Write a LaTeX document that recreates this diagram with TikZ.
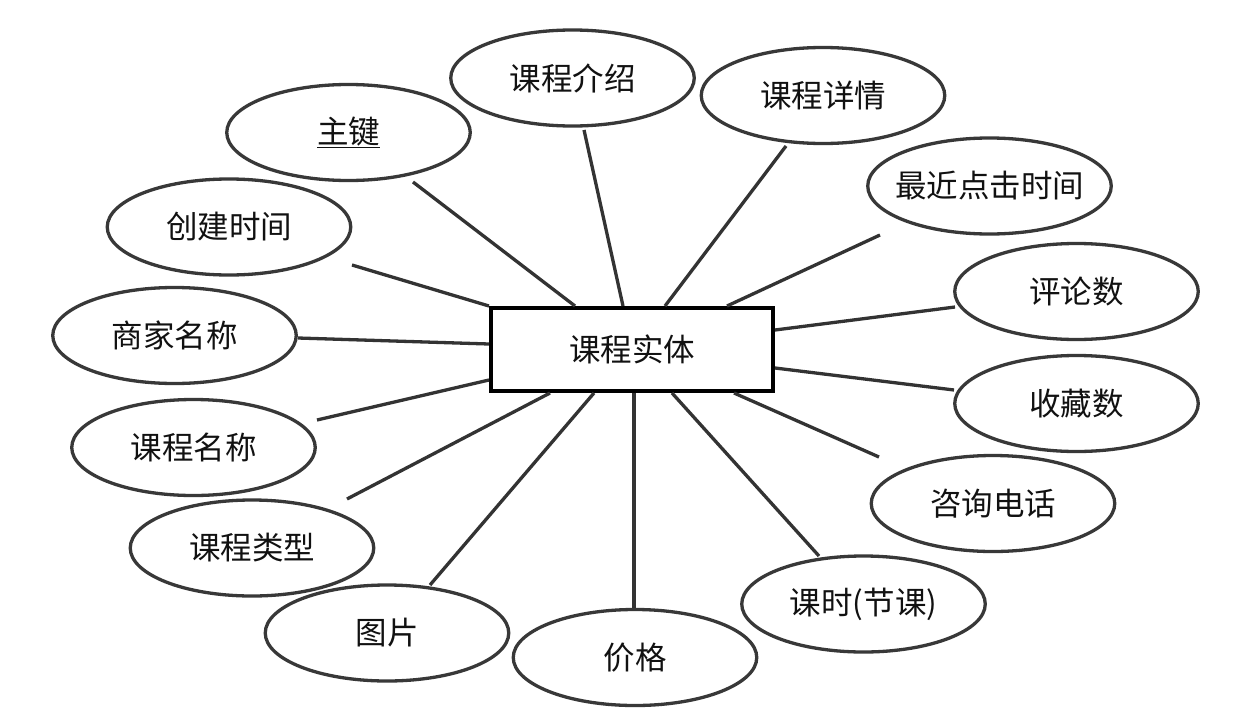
\documentclass[tikz,border=0pt]{standalone}
\usepackage{fontspec}
\setmainfont{Noto Sans CJK SC}
\usetikzlibrary{shapes.geometric}
\definecolor{ellc}{HTML}{383838}
\definecolor{linec}{HTML}{333333}
\definecolor{txt}{HTML}{111111}
\begin{document}
\begin{tikzpicture}[x=1pt,y=-1pt,
  attr/.style={ellipse, draw=ellc, line width=3.3pt, minimum width=243.5pt, minimum height=96pt,
    inner sep=0pt, font=\fontsize{31.5}{36}\selectfont, text=txt},
  ent/.style={rectangle, draw=black, fill=white, line width=4pt, minimum width=282pt, minimum height=83pt,
    inner sep=0pt, font=\fontsize{31.5}{36}\selectfont, text=txt},
  link/.style={draw=linec, line width=3.3pt}]
\fill[white] (0,0) rectangle (1257,720);
\useasboundingbox (0,0) rectangle (1257,720);
% entity
\node[ent] (r) at (632,349.5) {\makebox[0pt]{课程实体}};
% attributes
\node[attr] (pk) at (348.5,132.5) {\makebox[0pt]{\underline{主键}}};
\node[attr] (js) at (572.5,78)    {\makebox[0pt]{课程介绍}};
\node[attr] (xq) at (823,95.5)    {\makebox[0pt]{课程详情}};
\node[attr] (zj) at (989.5,186)   {\makebox[0pt]{最近点击时间}};
\node[attr] (pl) at (1076.5,291.5){\makebox[0pt]{评论数}};
\node[attr] (sc) at (1076.5,403.5){\makebox[0pt]{收藏数}};
\node[attr] (zx) at (993,503.5)   {\makebox[0pt]{咨询电话}};
\node[attr] (ks) at (863.5,604)   {\makebox[0pt]{课时(节课)}};
\node[attr] (jg) at (635,657.5)   {\makebox[0pt]{价格}};
\node[attr] (tp) at (387,633)     {\makebox[0pt]{图片}};
\node[attr] (lx) at (252,548)     {\makebox[0pt]{课程类型}};
\node[attr] (mc) at (193.5,447.5) {\makebox[0pt]{课程名称}};
\node[attr] (sj) at (174.5,335.5) {\makebox[0pt]{商家名称}};
\node[attr] (cj) at (229,227)     {\makebox[0pt]{创建时间}};
% connectors
\draw[link] ([shift={(-57,-43.5)}]r.center) -- ([shift={(64.5,49.5)}]pk.center);
\draw[link] ([shift={(-9,-43.5)}]r.center)  -- ([shift={(11.5,52)}]js.center);
\draw[link] ([shift={(33,-43.5)}]r.center)  -- ([shift={(-37,50.5)}]xq.center);
\draw[link] ([shift={(95,-43.5)}]r.center)  -- ([shift={(-109.5,49)}]zj.center);
\draw[link] ([shift={(143,-19.5)}]r.center) -- ([shift={(-121.5,15.5)}]pl.center);
\draw[link] ([shift={(143,18.5)}]r.center)  -- ([shift={(-122.5,-13.5)}]sc.center);
\draw[link] ([shift={(102,43.5)}]r.center)  -- ([shift={(-114,-46.5)}]zx.center);
\draw[link] ([shift={(40,43.5)}]r.center)   -- ([shift={(-44.5,-48)}]ks.center);
\draw[link] ([shift={(2,43.5)}]r.center)    -- ([shift={(-1,-49.5)}]jg.center);
\draw[link] ([shift={(-38,43.5)}]r.center)  -- ([shift={(43,-48)}]tp.center);
\draw[link] ([shift={(-82,43.5)}]r.center)  -- ([shift={(95,-49)}]lx.center);
\draw[link] ([shift={(-143,30.5)}]r.center) -- ([shift={(123.5,-27.5)}]mc.center);
\draw[link] ([shift={(-143,-5.5)}]r.center) -- ([shift={(123.5,2.5)}]sj.center);
\draw[link] ([shift={(-143,-43.5)}]r.center) -- ([shift={(123,38)}]cj.center);
\end{tikzpicture}
\end{document}
